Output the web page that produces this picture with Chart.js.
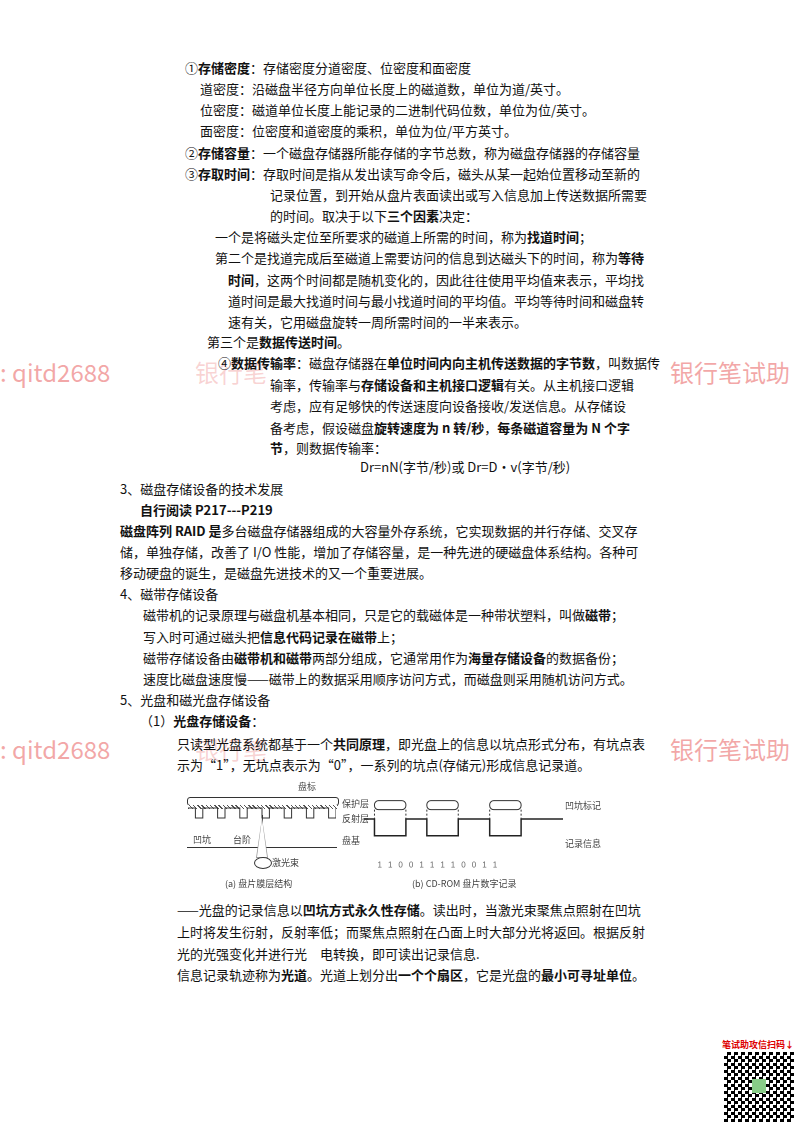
<!DOCTYPE html>
<html><head><meta charset="utf-8">
<script src="https://cdn.jsdelivr.net/npm/chart.js@4"></script>
<style>
body{margin:0;width:800px;height:1132px;background:#fff;position:relative;font-family:"Noto Sans CJK SC","Noto Sans",sans-serif;color:#111;overflow:hidden}
.l{position:absolute;font-size:13px;white-space:nowrap;line-height:18px}
b{font-weight:700}
.wm{position:absolute;font-size:24px;color:rgba(230,80,80,0.5);white-space:nowrap}
.cap{position:absolute;font-size:9px;color:#444}
</style></head><body>
<div class="l" style="left:185px;top:59px">①<b>存储密度</b>：存储密度分道密度、位密度和面密度</div>
<div class="l" style="left:200px;top:80px">道密度：沿磁盘半径方向单位长度上的磁道数，单位为道/英寸。</div>
<div class="l" style="left:200px;top:101px">位密度：磁道单位长度上能记录的二进制代码位数，单位为位/英寸。</div>
<div class="l" style="left:200px;top:122px">面密度：位密度和道密度的乘积，单位为位/平方英寸。</div>
<div class="l" style="left:185px;top:144px">②<b>存储容量</b>：一个磁盘存储器所能存储的字节总数，称为磁盘存储器的存储容量</div>
<div class="l" style="left:185px;top:165px">③<b>存取时间</b>：存取时间是指从发出读写命令后，磁头从某一起始位置移动至新的</div>
<div class="l" style="left:270px;top:186px">记录位置，到开始从盘片表面读出或写入信息加上传送数据所需要</div>
<div class="l" style="left:270px;top:207px">的时间。取决于以下<b>三个因素</b>决定：</div>
<div class="l" style="left:215px;top:228px">一个是将磁头定位至所要求的磁道上所需的时间，称为<b>找道时间</b>；</div>
<div class="l" style="left:215px;top:249px">第二个是找道完成后至磁道上需要访问的信息到达磁头下的时间，称为<b>等待</b></div>
<div class="l" style="left:228px;top:271px"><b>时间</b>，这两个时间都是随机变化的，因此往往使用平均值来表示，平均找</div>
<div class="l" style="left:228px;top:292px">道时间是最大找道时间与最小找道时间的平均值。平均等待时间和磁盘转</div>
<div class="l" style="left:228px;top:313px">速有关，它用磁盘旋转一周所需时间的一半来表示。</div>
<div class="l" style="left:207px;top:333px">第三个是<b>数据传送时间</b>。</div>
<div class="wm" style="left:0px;top:354px">: qitd2688</div>
<div class="wm" style="left:195px;top:354px;color:rgba(230,80,80,0.25)">银行笔</div>
<div class="wm" style="left:670px;top:354px">银行笔试助</div>
<div class="wm" style="left:0px;top:731px">: qitd2688</div>
<div class="wm" style="left:195px;top:731px;color:rgba(230,80,80,0.25)">银行笔</div>
<div class="wm" style="left:670px;top:731px">银行笔试助</div>
<div class="l" style="left:218px;top:354px">④<b>数据传输率</b>：磁盘存储器在<b>单位时间内向主机传送数据的字节数</b>，叫数据传</div>
<div class="l" style="left:270px;top:376px">输率，传输率与<b>存储设备和主机接口逻辑</b>有关。从主机接口逻辑</div>
<div class="l" style="left:270px;top:397px">考虑，应有足够快的传送速度向设备接收/发送信息。从存储设</div>
<div class="l" style="left:270px;top:419px">备考虑，假设磁盘<b>旋转速度为 n 转/秒</b>，<b>每条磁道容量为 N 个字</b></div>
<div class="l" style="left:270px;top:439px"><b>节</b>，则数据传输率：</div>
<div class="l" style="left:360px;top:458px">Dr=nN(字节/秒)或 Dr=D•v(字节/秒)</div>
<div class="l" style="left:120px;top:480px">3、磁盘存储设备的技术发展</div>
<div class="l" style="left:140px;top:501px"><b>自行阅读 P217---P219</b></div>
<div class="l" style="left:120px;top:522px"><b>磁盘阵列 RAID 是</b>多台磁盘存储器组成的大容量外存系统，它实现数据的并行存储、交叉存</div>
<div class="l" style="left:120px;top:543px">储，单独存储，改善了 I/O 性能，增加了存储容量，是一种先进的硬磁盘体系结构。各种可</div>
<div class="l" style="left:120px;top:564px">移动硬盘的诞生，是磁盘先进技术的又一个重要进展。</div>
<div class="l" style="left:120px;top:585px">4、磁带存储设备</div>
<div class="l" style="left:143px;top:606px">磁带机的记录原理与磁盘机基本相同，只是它的载磁体是一种带状塑料，叫做<b>磁带</b>；</div>
<div class="l" style="left:143px;top:628px">写入时可通过磁头把<b>信息代码记录在磁带</b>上；</div>
<div class="l" style="left:143px;top:649px">磁带存储设备由<b>磁带机和磁带</b>两部分组成，它通常用作为<b>海量存储设备</b>的数据备份；</div>
<div class="l" style="left:143px;top:670px">速度比磁盘速度慢——磁带上的数据采用顺序访问方式，而磁盘则采用随机访问方式。</div>
<div class="l" style="left:120px;top:691px">5、光盘和磁光盘存储设备</div>
<div class="l" style="left:140px;top:712px">（1）<b>光盘存储设备</b>：</div>
<div class="l" style="left:177px;top:735px">只读型光盘系统都基于一个<b>共同原理</b>，即光盘上的信息以坑点形式分布，有坑点表</div>
<div class="l" style="left:177px;top:756px">示为“1”，无坑点表示为“0”，一系列的坑点(存储元)形成信息记录道。</div>
<div class="l" style="left:177px;top:901px">——光盘的记录信息以<b>凹坑方式永久性存储</b>。读出时，当激光束聚焦点照射在凹坑</div>
<div class="l" style="left:177px;top:923px">上时将发生衍射，反射率低；而聚焦点照射在凸面上时大部分光将返回。根据反射</div>
<div class="l" style="left:177px;top:945px">光的光强变化并进行光　电转换，即可读出记录信息.</div>
<div class="l" style="left:177px;top:966px">信息记录轨迹称为<b>光道</b>。光道上划分出<b>一个个扇区</b>，它是光盘的<b>最小可寻址单位</b>。</div>

<!-- left figure -->
<div style="position:absolute;left:187px;top:797px;width:150px;height:7px;border:1px solid #333;border-radius:3px"></div>
<div style="position:absolute;left:188px;top:805px;width:150px;height:4px;background:repeating-linear-gradient(45deg,#555 0 1px,#fff 1px 3px)"></div>
<div style="position:absolute;left:187px;top:847px;width:150px;height:1px;background:#333"></div>
<canvas id="pits" width="150" height="14" style="position:absolute;left:187px;top:806px"></canvas>
<div style="position:absolute;left:262px;top:815px;width:0;height:42px;border-left:1px solid #333"></div>
<div style="position:absolute;left:256px;top:818px;width:12px;height:40px;clip-path:polygon(50% 0,0 100%,100% 100%);background:#999"></div>
<div style="position:absolute;left:257px;top:819px;width:10px;height:38px;clip-path:polygon(50% 0,0 100%,100% 100%);background:#fff"></div>
<div class="cap" style="left:298px;top:780px">盘标</div>
<div class="cap" style="left:342px;top:797px">保护层</div>
<div class="cap" style="left:342px;top:812px">反射层</div>
<div class="cap" style="left:193px;top:833px">凹坑</div>
<div class="cap" style="left:233px;top:833px">台阶</div>
<div class="cap" style="left:342px;top:834px">盘基</div>
<div class="cap" style="left:272px;top:856px">激光束</div>
<div style="position:absolute;left:254px;top:857px;width:16px;height:10px;border:1px solid #333;border-radius:50%"></div>
<div class="cap" style="left:225px;top:877px">(a) 盘片膜层结构</div>

<!-- right figure -->
<canvas id="wave" width="205" height="85" style="position:absolute;left:360px;top:795px"></canvas>
<div class="cap" style="left:565px;top:799px">凹坑标记</div>
<div class="cap" style="left:565px;top:837px">记录信息</div>
<div class="cap" style="left:412px;top:877px">(b) CD-ROM 盘片数字记录</div>

<!-- QR -->
<div style="position:absolute;left:722px;top:1038px;font-size:9px;color:#d00;font-weight:700">笔试助攻信扫码↓</div>
<div style="position:absolute;left:724px;top:1052px;width:70px;height:70px;background:repeating-conic-gradient(#000 0 25%,#fff 0 50%) 0 0/7px 7px"></div>
<div style="position:absolute;left:752px;top:1079px;width:14px;height:14px;background:#8c8"></div>

<script>
// waveform edges (bit units) and levels
const edges = [0, 1, 4, 6, 9, 12, 15, 17, 19];
const levels = [1, 0, 1, 0, 1, 0, 1, 1, 1];
const bitLabels = ["1", "1", "0", "0", "1", "1", "1", "1", "0", "0", "1", "1"];
// pit profile for left figure
const pitEdges = [0, 1, 2, 4, 5, 7, 8, 10, 11, 13, 14, 16, 17, 19, 20];
const pitLevels = [1, 0, 1, 0, 1, 0, 1, 0, 1, 0, 1, 0, 1, 0, 1];

Chart.defaults.animation = false;
new Chart(document.getElementById("pits"), {
  type: "line",
  data: { datasets: [{ data: pitEdges.map((x, i) => ({ x, y: pitLevels[i] })), stepped: true,
    borderColor: "#333", borderWidth: 1, pointRadius: 0 }] },
  options: { responsive: false, devicePixelRatio: 2, plugins: { legend: { display: false }, tooltip: { enabled: false } },
    layout: { padding: 1 },
    scales: { x: { type: "linear", min: 0, max: 20, display: false }, y: { min: -0.1, max: 1.1, display: false } } }
});

new Chart(document.getElementById("wave"), {
  type: "line",
  data: { datasets: [{ data: edges.map((x, i) => ({ x, y: levels[i] })), stepped: true,
    borderColor: "#222", borderWidth: 1.5, pointRadius: 0 }] },
  options: { responsive: false, devicePixelRatio: 2, plugins: { legend: { display: false }, tooltip: { enabled: false } },
    layout: { padding: { left: 4, right: 2, top: 4, bottom: 0 } },
    scales: {
      x: { type: "linear", min: 0, max: 19, border: { display: false }, grid: { display: false },
        afterBuildTicks: a => { a.ticks = bitLabels.map((_, i) => ({ value: 1.5 + i })); },
        ticks: { callback: (v, i) => bitLabels[i], color: "#666", font: { size: 8 }, padding: 10, autoSkip: false, maxRotation: 0 } },
      y: { min: -0.4, max: 2.2, display: false }
    } },
  plugins: [{ id: "pitmarks", afterDatasetsDraw(c) {
    const g = c.ctx, x = c.scales.x, y = c.scales.y;
    g.save(); g.strokeStyle = "#333"; g.lineWidth = 1;
    for (let i = 1; i < edges.length - 2; i += 2) {
      const a = x.getPixelForValue(edges[i]), b = x.getPixelForValue(edges[i + 1]);
      const top = y.getPixelForValue(2.1), h = 9;
      g.beginPath(); g.roundRect(a, top, b - a, h, 4); g.stroke();
      g.setLineDash([2, 2]);
      g.beginPath(); g.moveTo(a, top + h); g.lineTo(a, y.getPixelForValue(1));
      g.moveTo(b, top + h); g.lineTo(b, y.getPixelForValue(1)); g.stroke(); g.setLineDash([]);
    }
    g.restore();
  } }]
});
</script>
</body></html>
